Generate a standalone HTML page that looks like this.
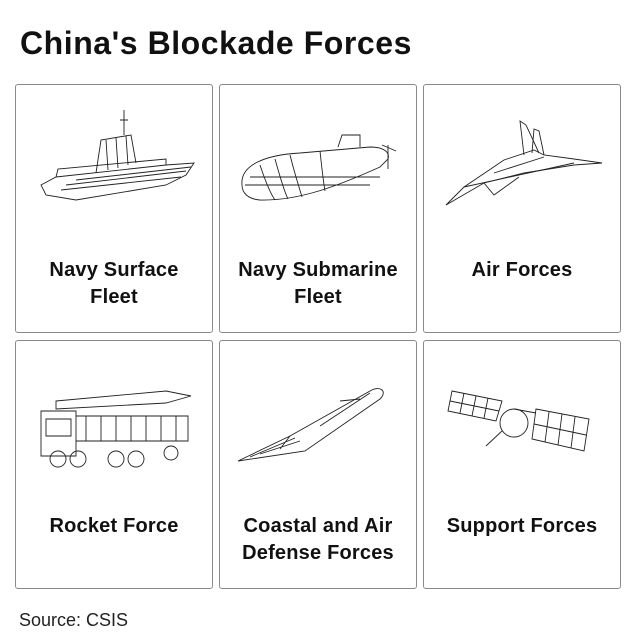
<!DOCTYPE html>
<html><head><style>
body{margin:0;width:635px;height:641px;background:#fff;font-family:"Liberation Sans",sans-serif;position:relative;overflow:hidden}
h1{position:absolute;left:20px;top:25px;margin:0;font-size:32px;font-weight:bold;color:#111;letter-spacing:0.55px}
.c{position:absolute;width:198px;height:249px;border:1px solid #8a8a8a;border-radius:3px;box-sizing:border-box}
.l{position:absolute;left:0;right:0;text-align:center;font-weight:bold;font-size:20px;line-height:27px;color:#111;letter-spacing:0.2px}
svg{position:absolute;left:0;top:0}
.s{position:absolute;left:19px;top:610px;font-size:18px;color:#222}
</style></head><body>
<h1>China's Blockade Forces</h1>

<div class="c" style="left:15px;top:84px">
<svg width="196" height="150" fill="none" stroke="#222" stroke-width="0.9">
<path d="M25 100 L40 92 L150 80 L178 78 L170 90 L150 100 L60 115 L30 110Z"/><path d="M40 92 L42 84 L150 74 L150 80"/><path d="M80 88 L85 55 L115 50 L120 78"/><path d="M108 50 V25 M104 35 H112"/><path d="M60 95 L175 82 M45 105 L165 92 M50 100 L170 86 M90 55 L92 85 M100 53 L102 83 M110 51 L112 80"/>
</svg>
<div class="l" style="top:172px">Navy Surface<br>Fleet</div></div>

<div class="c" style="left:219px;top:84px">
<svg width="196" height="150" fill="none" stroke="#222" stroke-width="0.9">
<path d="M22 100 C20 80 45 70 80 68 L150 62 C165 62 170 68 168 74 L160 82 C120 100 80 116 40 115 C28 114 22 108 22 100Z"/><path d="M118 62 L122 50 L140 50 L140 62"/><path d="M168 60 V84 M162 60 L176 66"/><path d="M40 80 C45 95 50 108 55 115 M70 70 C75 90 80 105 82 112 M30 92 H160 M55 74 C60 92 65 108 68 114 M100 66 C102 85 104 100 105 106 M25 100 H150"/>
</svg>
<div class="l" style="top:172px">Navy Submarine<br>Fleet</div></div>

<div class="c" style="left:423px;top:84px">
<svg width="196" height="150" fill="none" stroke="#222" stroke-width="0.9">
<path d="M22 120 L60 98 L100 88 L150 80 L178 78 L150 74 L120 70 L110 65 L80 75 L40 102 Z"/><path d="M100 70 L96 36 L102 40 L115 68 M108 68 L110 44 L115 46 L120 70"/><path d="M60 98 L70 110 L95 92 M40 102 L150 78 M70 88 L120 72"/>
</svg>
<div class="l" style="top:172px">Air Forces</div></div>

<div class="c" style="left:15px;top:340px">
<svg width="196" height="150" fill="none" stroke="#222" stroke-width="0.9">
<path d="M25 70 H60 V115 H25Z M60 75 H172 V100 H60"/><path d="M40 60 L150 50 L175 55 L150 62 L40 68Z"/><circle cx="42" cy="118" r="8"/><circle cx="62" cy="118" r="8"/><circle cx="100" cy="118" r="8"/><circle cx="120" cy="118" r="8"/><circle cx="155" cy="112" r="7"/><path d="M30 78 H55 V95 H30Z M70 75 V100 M85 75 V100 M100 75 V100 M115 75 V100 M130 75 V100 M145 75 V100 M160 75 V100"/>
</svg>
<div class="l" style="top:172px">Rocket Force</div></div>

<div class="c" style="left:219px;top:340px">
<svg width="196" height="150" fill="none" stroke="#222" stroke-width="0.9">
<path d="M18 120 L70 95 L150 50 C160 44 168 50 160 58 L85 110 Z"/><path d="M40 113 L80 100 M100 85 L150 52 M120 60 L140 58 M30 116 L75 97 M60 108 L70 95"/>
</svg>
<div class="l" style="top:172px">Coastal and Air<br>Defense Forces</div></div>

<div class="c" style="left:423px;top:340px">
<svg width="196" height="150" fill="none" stroke="#222" stroke-width="0.9">
<path d="M28 50 L78 60 L72 80 L24 70Z M112 68 L165 78 L160 110 L108 98Z"/><circle cx="90" cy="82" r="14"/><path d="M78 90 L62 105 M90 68 L112 72 M40 52 L36 72 M52 55 L48 75 M64 57 L60 77 M125 71 L121 101 M138 73 L134 104 M151 76 L147 107 M26 60 L75 70 M110 83 L162 94"/>
</svg>
<div class="l" style="top:172px">Support Forces</div></div>

<div class="s">Source: CSIS</div>
</body></html>
